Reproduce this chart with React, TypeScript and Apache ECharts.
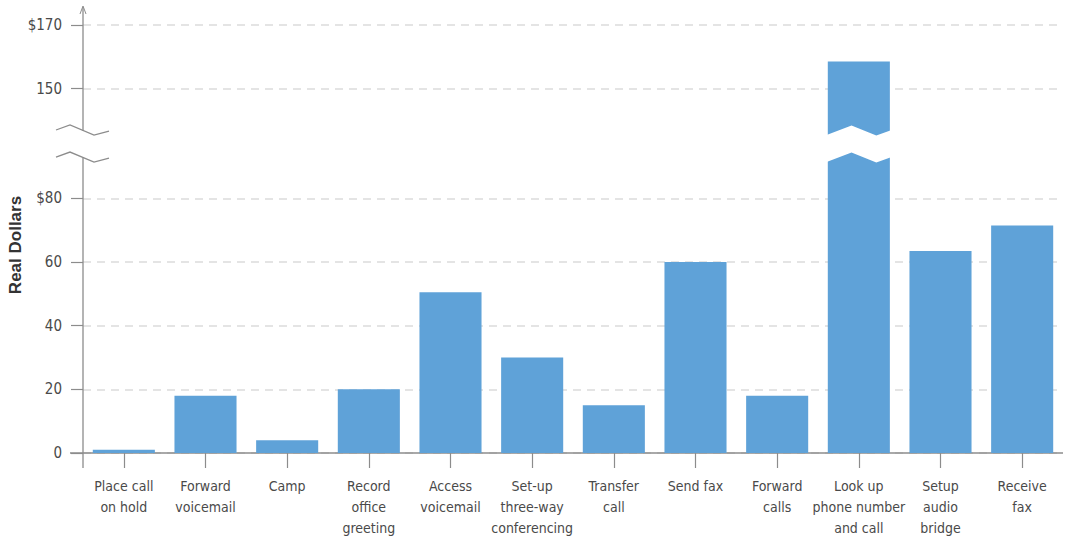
import { useEffect, useRef } from 'react';
import * as echarts from 'echarts';

// Cost per task, in real dollars
const categories = [
  'Place call\non hold',
  'Forward\nvoicemail',
  'Camp',
  'Record\noffice\ngreeting',
  'Access\nvoicemail',
  'Set-up\nthree-way\nconferencing',
  'Transfer\ncall',
  'Send fax',
  'Forward\ncalls',
  'Look up\nphone number\nand call',
  'Setup\naudio\nbridge',
  'Receive\nfax',
];
const costs = [1, 18, 4, 20, 50.5, 30, 15, 60, 18, 158.5, 63.5, 71.5];

// Y axis ticks and the skipped stretch of the scale
const tickValues = [0, 20, 40, 60, 80, 150, 170];
const dollarTicks = [80, 170];
const axisMax = 170;
const breakStart = 93;
const breakEnd = 137;
const breakGap = 8.5;
const axisTitle = 'Real Dollars';

const W = 1068;
const H = 541;
const GRID = { left: 83, right: 5, top: 25, bottom: 88 };
const FONT = '"Liberation Sans Narrow", "DejaVu Sans Condensed", "Roboto", sans-serif';
const AXIS_COLOR = '#8c8c8c';
const BAR_COLOR = '#5fa2d8';

export default function App() {
  const ref = useRef<HTMLDivElement>(null);

  useEffect(() => {
    if (!ref.current) return;
    const chart = echarts.init(ref.current, null, { renderer: 'svg' });

    const option: any = {
      animation: false,
      backgroundColor: '#ffffff',
      grid: { ...GRID, containLabel: false, outerBoundsMode: 'none' },
      xAxis: {
        type: 'category',
        data: categories,
        axisLine: { show: false },
        axisTick: {
          show: true,
          alignWithLabel: true,
          length: 15,
          lineStyle: { color: AXIS_COLOR, width: 1.2 },
        },
        axisLabel: {
          interval: 0,
          margin: 22,
          color: '#4a4a4a',
          fontFamily: FONT,
          fontSize: 14,
          lineHeight: 21,
        },
      },
      yAxis: {
        type: 'value',
        min: 0,
        max: axisMax,
        breaks: [{ start: breakStart, end: breakEnd, gap: breakGap }],
        breakArea: {
          show: true,
          expandOnClick: false,
          zigzagAmplitude: 5,
          zigzagMinSpan: 24,
          zigzagMaxSpan: 30,
          zigzagZ: 200,
          itemStyle: { color: '#ffffff', borderColor: '#ffffff', borderWidth: 0, opacity: 1 },
        },
        axisLine: { show: false },
        axisTick: {
          show: true,
          customValues: tickValues,
          length: 12,
          lineStyle: { color: AXIS_COLOR, width: 1.2 },
        },
        axisLabel: {
          customValues: tickValues,
          margin: 21,
          color: '#4a4a4a',
          fontFamily: FONT,
          fontSize: 15,
          formatter: (v: number) => (dollarTicks.includes(v) ? '$' + v : String(v)),
        },
        splitLine: {
          show: true,
          lineStyle: { color: '#dcdcdc', width: 1.5, type: [8, 6] },
        },
      },
      series: [
        {
          type: 'bar',
          data: costs,
          barWidth: '76%',
          itemStyle: { color: BAR_COLOR },
        },
      ],
    };
    chart.setOption(option);

    // Axis lines, the top arrow, the break marks that cross the y axis and the axis title
    const c0 = chart.convertToPixel({ xAxisIndex: 0 }, 0) as number;
    const c1 = chart.convertToPixel({ xAxisIndex: 0 }, 1) as number;
    const x0 = c0 - (c1 - c0) / 2;
    const xEnd = c0 + (c1 - c0) * (categories.length - 0.5);
    const yZero = chart.convertToPixel({ yAxisIndex: 0 }, 0) as number;
    const yTop = chart.convertToPixel({ yAxisIndex: 0 }, axisMax) as number;
    const yLow = chart.convertToPixel({ yAxisIndex: 0 }, breakStart) as number;
    const yHigh = chart.convertToPixel({ yAxisIndex: 0 }, breakEnd) as number;
    const lineStyle = { stroke: AXIS_COLOR, lineWidth: 1.3 };
    const zig = (yc: number) => [
      [x0 - 27, yc + 0],
      [x0 - 13, yc - 5],
      [x0 + 11, yc + 5],
      [x0 + 26, yc + 1],
    ];
    chart.setOption({
      graphic: [
        { type: 'line', silent: true, shape: { x1: x0, y1: yTop - 18, x2: x0, y2: yHigh + 1 }, style: lineStyle },
        { type: 'line', silent: true, shape: { x1: x0, y1: yLow + 1, x2: x0, y2: yZero + 15 }, style: lineStyle },
        { type: 'line', silent: true, shape: { x1: x0 - 13, y1: yZero, x2: xEnd, y2: yZero }, style: lineStyle },
        {
          type: 'polyline',
          silent: true,
          shape: { points: [[x0 - 3, yTop - 11], [x0, yTop - 19], [x0 + 3, yTop - 11]] },
          style: { ...lineStyle, fill: 'none', lineWidth: 1 },
        },
        { type: 'polyline', silent: true, z: 300, shape: { points: zig(yHigh) }, style: { ...lineStyle, fill: 'none' } },
        { type: 'polyline', silent: true, z: 300, shape: { points: zig(yLow) }, style: { ...lineStyle, fill: 'none' } },
        {
          type: 'text',
          silent: true,
          x: x0 - 68,
          y: (yTop + yZero) / 2 + 6,
          rotation: Math.PI / 2,
          style: {
            text: axisTitle,
            align: 'center',
            verticalAlign: 'middle',
            fontFamily: '"Liberation Sans", "Open Sans", sans-serif',
            fontWeight: 'bold',
            fontSize: 17,
            fill: '#333',
          },
        },
      ],
    });

    return () => chart.dispose();
  }, []);

  return (
    <div
      ref={ref}
      style={{ position: 'fixed', left: 0, top: 0, width: W, height: H, background: '#fff' }}
    />
  );
}
